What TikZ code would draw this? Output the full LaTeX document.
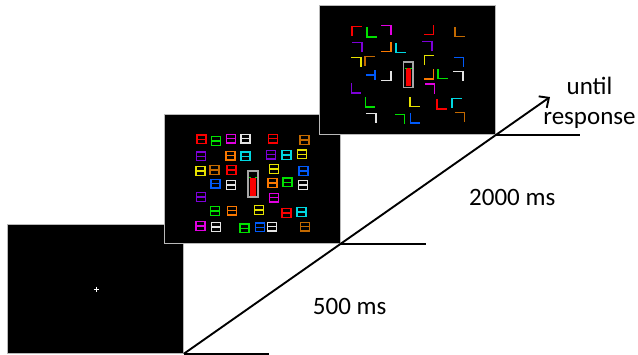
\documentclass[tikz,border=0pt]{standalone}
\usepackage{fontspec}
\setmainfont{Carlito}
\usepackage{xcolor}
\usetikzlibrary{positioning, arrows.meta}

\definecolor{cRed}{RGB}{250,0,0}
\definecolor{cGreen}{RGB}{0,225,0}
\definecolor{cMagenta}{RGB}{225,0,225}
\definecolor{cWhite}{RGB}{228,228,228}
\definecolor{cOrange}{RGB}{250,120,0}
\definecolor{cBrown}{RGB}{195,105,0}
\definecolor{cPurple}{RGB}{125,0,215}
\definecolor{cCyan}{RGB}{0,215,225}
\definecolor{cYellow}{RGB}{230,225,0}
\definecolor{cBlue}{RGB}{0,90,250}

\begin{document}
\begin{tikzpicture}[
    x=1pt, y=-1pt,
    panel/.style={rectangle, draw=gray!55, fill=black, line width=0.8pt, minimum width=176pt, minimum height=129pt, inner sep=0pt},
    sym/.style={draw=#1, line width=1.4pt, line cap=rect},
    gauge/.style={draw=gray!70, fill=black, line width=1.6pt},
    tick/.style={line width=1.9pt, draw=black},
    arr/.style={-{Straight Barb[length=7.5pt, width=14pt]}, line width=1.9pt, draw=black},
    lbl/.style={inner sep=0pt, font=\fontsize{25}{30}\selectfont},
]
\useasboundingbox (0,0) rectangle (638,354);

% fixation display
\node[panel, anchor=north west] (p1) at (7,224) {};
\begin{scope}[shift={(p1.north west)}]
\draw[white, line width=0.7pt] (86.5,65) -- (91.5,65) (89,62.5) -- (89,67.5);
\end{scope}

% search display
\node[panel, above right=-20pt and -20pt of p1] (p2) {};
\begin{scope}[shift={(p2.north west)}]
\foreach \x/\y/\c in {37.7/25/cRed, 52.3/26.7/cGreen, 67/24.3/cMagenta, 81.7/24.3/cWhite, 109/24.3/cRed, 140.7/25.7/cBrown,
    37.3/42/cPurple, 66.7/41.3/cOrange, 81.7/42/cCyan, 107/40.3/cPurple, 122.7/40.7/cCyan, 138/40/cYellow,
    36.7/56.7/cYellow, 50.7/55.7/cBrown, 67.7/55.7/cRed, 110.3/54.7/cYellow, 139.7/56.7/cBlue,
    51.7/69.3/cBlue, 67/70.7/cWhite, 108.7/68.7/cOrange, 123.7/68/cGreen, 139/70.7/cWhite,
    37/82.7/cPurple, 110.3/83.3/cMagenta,
    51/96.7/cGreen, 68/96.3/cOrange, 95.3/95.7/cYellow, 122.7/98.7/cRed, 137.7/97.7/cCyan,
    36.7/111.7/cMagenta, 52.3/112.7/cWhite, 80.7/114/cGreen, 96/113/cBlue, 108/112.3/cWhite, 141/112.3/cBrown}
  \draw[sym=\c] (\x-4.5,\y-4.3) rectangle (\x+4.5,\y+4.3) (\x-4.5,\y) -- (\x+4.5,\y);
\draw[gauge] (84,57) rectangle (94,83);
\fill[cRed] (86.3,63.5) rectangle (91.7,81.5);
\draw[cGreen, line width=1.2pt] (85,63.5) -- (87,63.5) (91,63.5) -- (93,63.5);
\end{scope}

% response display
\node[panel, above right=-21pt and -22pt of p2] (p3) {};
\begin{scope}[shift={(p3.north west)}]
\foreach \x/\y/\c/\sx/\sy in {38/25.3/cRed/-1/-1, 53/27/cGreen/-1/1, 68/24.7/cMagenta/1/-1, 110.3/24.7/cRed/1/1, 140.7/26.3/cBrown/-1/1,
    38.7/41.7/cPurple/1/-1, 68/41.3/cOrange/1/1, 82/42.3/cCyan/-1/1, 108.7/40.3/cPurple/1/-1,
    38/56.3/cYellow/1/-1, 50.7/55.3/cBrown/-1/-1, 110.3/54.7/cYellow/-1/-1, 140.3/56.3/cBlue/1/-1,
    68/70.7/cWhite/1/1, 110.3/69/cOrange/1/1, 124/68.7/cGreen/-1/1, 139.7/70.3/cWhite/1/-1,
    37.3/83/cPurple/-1/1, 111.3/83/cMagenta/1/-1,
    51.3/97/cGreen/-1/1, 95.7/96.3/cYellow/-1/1, 123/99/cRed/-1/1, 138/97.3/cCyan/-1/-1,
    53/112.3/cWhite/1/-1, 81.3/113.7/cGreen/1/-1, 96.3/113/cBlue/-1/1, 141.3/111.7/cBrown/1/-1}
  \draw[sym=\c] (\x+4.5*\sx,\y-4.5*\sy) -- (\x+4.5*\sx,\y+4.5*\sy) -- (\x-4.5*\sx,\y+4.5*\sy);
\draw[sym=cBlue] (48.3,69.7) -- (56.3,69.7) (56.3,65.5) -- (56.3,73.9);
\draw[gauge] (85,56.5) rectangle (94.5,82);
\fill[cRed] (87.2,63) rectangle (92.3,80.5);
\draw[cGreen, line width=1.2pt] (86,63) -- (88,63) (91.5,63) -- (93.5,63);
\end{scope}

% timeline
\coordinate[right=85pt of p1.south east] (e1);
\coordinate[right=85pt of p2.south east] (e2);
\coordinate[right=85pt of p3.south east] (e3);
\coordinate (tip) at (550,97);
\draw[tick] (p1.south east) -- (e1);
\draw[tick] (p2.south east) -- (e2);
\draw[tick] (p3.south east) -- (e3);
\draw[arr] (p1.south east) -- (tip);

\node[lbl, anchor=base west] (d1) at (312.7,314.3) {500 ms};
\node[lbl, anchor=base west] (d2) at (469,205.7) {2000 ms};
\node[lbl, anchor=base] (until) at (589.5,94.3) {until};
\node[lbl, anchor=base] (resp) at (589.5,124.3) {response};
\end{tikzpicture}
\end{document}
